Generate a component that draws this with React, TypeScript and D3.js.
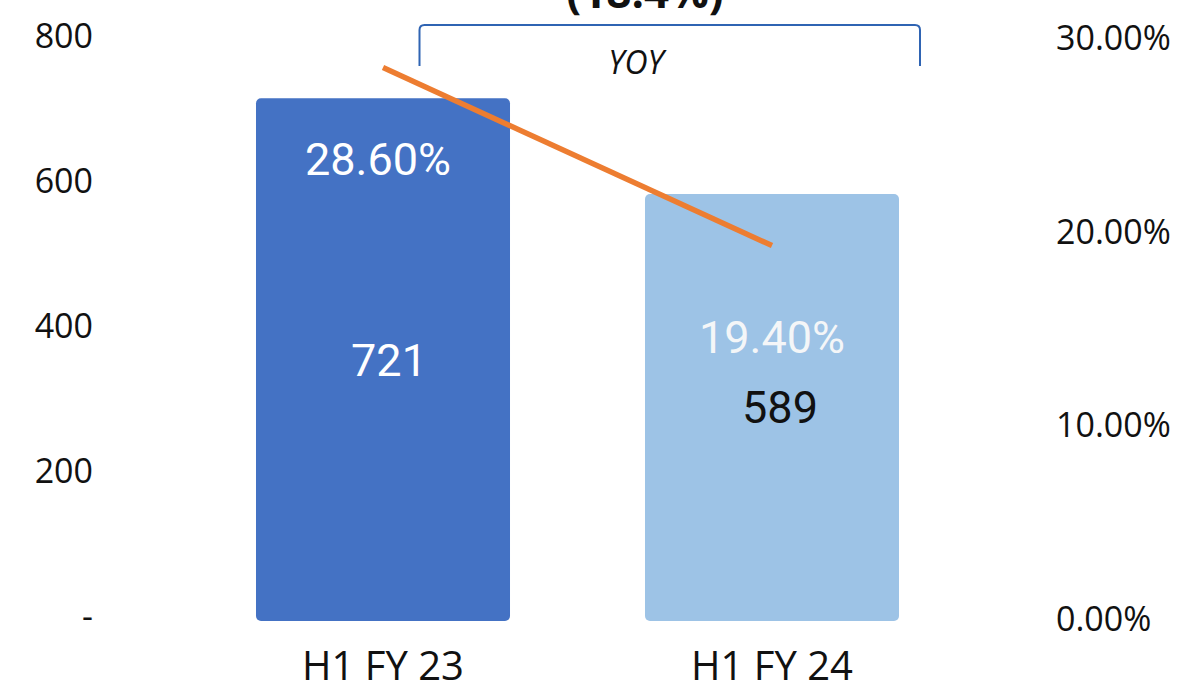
import React from 'react';
import * as d3 from 'd3';

const categories = ['H1 FY 23', 'H1 FY 24'];
const values = [721, 589];
const margins = [0.286, 0.194];
const valueLabels = ['721', '589'];
const marginLabels = ['28.60%', '19.40%'];
const leftTicks = [0, 200, 400, 600, 800];
const rightTicks = [0, 0.1, 0.2, 0.3];
const yoyText = '(18.4%)';

const barColors = ['#4472C4', '#9DC3E6'];
const valueColors = ['#ffffff', '#111111'];
const marginColors = ['#ffffff', '#f4f6f8'];

const width = 1184;
const height = 691;
const font = '"Open Sans", "Noto Sans", sans-serif';
const labelFont = 'Roboto, "Noto Sans", sans-serif';

const App = () => {
  const x = d3.scaleBand<string>()
    .domain(categories)
    .range([139.3, 1015.7])
    .paddingInner(0.347)
    .paddingOuter(0.3);

  const yLeft = d3.scaleLinear().domain([0, 800]).range([621, 41]);
  const yRight = d3.scaleLinear().domain([0, 0.3]).range([621, 40.5]);

  const cx = (c: string) => (x(c) ?? 0) + x.bandwidth() / 2;

  const line = d3.line<number>()
    .x((_, i) => cx(categories[i]))
    .y(d => yRight(d));

  const fmtLeft = (v: number) => (v === 0 ? '-' : d3.format(',')(v));
  const fmtRight = d3.format('.2%');

  return (
    <svg width={width} height={height} style={{ position: 'absolute', left: 0, top: 0, background: '#fff' }}>
      {/* title, mostly cut off at the top like the source */}
      <text x={645} y={8} textAnchor="middle" fontFamily={font} fontWeight={700} fontSize={44} fill="#111">
        {yoyText}
      </text>

      {/* YOY bracket */}
      <path d="M419.5,66 V30 Q419.5,25 424.5,25 H915 Q920,25 920,30 V66" fill="none" stroke="#2F64B3" strokeWidth={2} />
      <text x={636} y={74} textAnchor="middle" fontFamily={font} fontStyle="italic" fontSize={32} fill="#111">YOY</text>

      {/* bars */}
      {categories.map((c, i) => (
        <rect key={c}
          x={x(c)}
          y={yLeft(values[i])}
          width={x.bandwidth()}
          height={yLeft(0) - yLeft(values[i])}
          rx={5}
          fill={barColors[i]} />
      ))}

      {/* margin line */}
      <path d={line(margins) ?? ''} fill="none" stroke="#ED7D31" strokeWidth={5.5} />

      {/* data labels */}
      {categories.map((c, i) => (
        <g key={'lbl' + c} fontFamily={labelFont} fontSize={45} textAnchor="middle">
          <text x={cx(c) - (i === 0 ? 5 : 0)} y={yRight(margins[i]) + 107} fill={marginColors[i]}>{marginLabels[i]}</text>
          <text x={cx(c) + (i === 0 ? 6 : 8)} y={(yLeft(values[i]) + yLeft(0)) / 2 + 16} fill={valueColors[i]}>{valueLabels[i]}</text>
        </g>
      ))}

      {/* left axis */}
      <g fontFamily={font} fontSize={34} fill="#111" textAnchor="end">
        {leftTicks.map(t => (
          <text key={t} x={93} y={yLeft(t) - 5} dy="0.35em">{fmtLeft(t)}</text>
        ))}
      </g>

      {/* right axis */}
      <g fontFamily={font} fontSize={34} fill="#111" textAnchor="start">
        {rightTicks.map(t => (
          <text key={t} x={1056} y={yRight(t) - 2} dy="0.35em">{fmtRight(t)}</text>
        ))}
      </g>

      {/* category axis */}
      <g fontFamily={font} fontSize={40} fill="#111" textAnchor="middle">
        {categories.map(c => (
          <text key={c} x={cx(c)} y={680}>{c}</text>
        ))}
      </g>
    </svg>
  );
};

export default App;
